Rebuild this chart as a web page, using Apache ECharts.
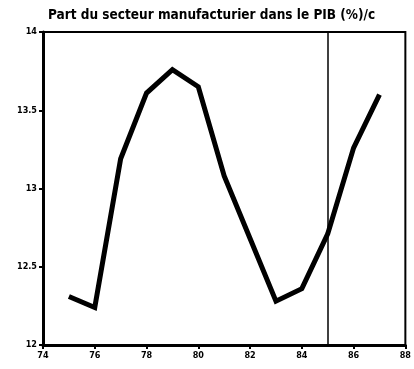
<!DOCTYPE html>
<html>
<head>
<meta charset="utf-8">
<script src="https://cdn.jsdelivr.net/npm/echarts@6/dist/echarts.min.js"></script>
<style>html,body{margin:0;padding:0;background:#fff;}#c{width:414px;height:369px;}</style>
</head>
<body>
<div id="c"></div>
<script>
const titleText = 'Part du secteur manufacturier dans le PIB (%)/c';
const years = [75, 76, 77, 78, 79, 80, 81, 82, 83, 84, 85, 86, 87];
const values = [12.31, 12.24, 13.19, 13.61, 13.76, 13.65, 13.08, 12.68, 12.28, 12.36, 12.71, 13.26, 13.60];
const xTicks = [74, 76, 78, 80, 82, 84, 86, 88];
const yTicks = [12, 12.5, 13, 13.5, 14];
const markYear = 85;

const chart = echarts.init(document.getElementById('c'));
const lblFont = { color: '#000', fontFamily: 'DejaVu Sans Condensed', fontWeight: 'bold', fontSize: 9 };
chart.setOption({
  animation: false,
  title: {
    text: titleText, left: 43, top: 3,
    textStyle: { color: '#000', fontFamily: 'DejaVu Sans Condensed', fontWeight: 'bold', fontSize: 13.5 }
  },
  grid: { left: 43, right: 6, top: 32, bottom: 24, show: true, borderColor: '#000', borderWidth: 2, backgroundColor: 'transparent' },
  xAxis: {
    type: 'value', min: xTicks[0], max: xTicks[xTicks.length - 1], interval: 2,
    axisLine: { lineStyle: { color: '#000', width: 3 } },
    axisTick: { show: true, length: 4, lineStyle: { color: '#000', width: 2 } },
    splitLine: { show: false },
    axisLabel: Object.assign({ margin: 6, formatter: v => String(v) }, lblFont)
  },
  yAxis: {
    type: 'value', min: yTicks[0], max: yTicks[yTicks.length - 1], interval: 0.5,
    axisLine: { show: true, lineStyle: { color: '#000', width: 3 } },
    axisTick: { show: true, length: 4, lineStyle: { color: '#000', width: 2 } },
    splitLine: { show: false },
    axisLabel: Object.assign({ margin: 6, formatter: v => String(v) }, lblFont)
  },
  series: [{
    type: 'line',
    data: years.map((y, i) => [y, values[i]]),
    showSymbol: false,
    lineStyle: { color: '#000', width: 5, join: 'miter' },
    markLine: {
      silent: true, symbol: 'none', label: { show: false },
      lineStyle: { color: '#000', width: 1.5, type: 'solid' },
      data: [{ xAxis: markYear }]
    }
  }]
});
</script>
</body>
</html>
